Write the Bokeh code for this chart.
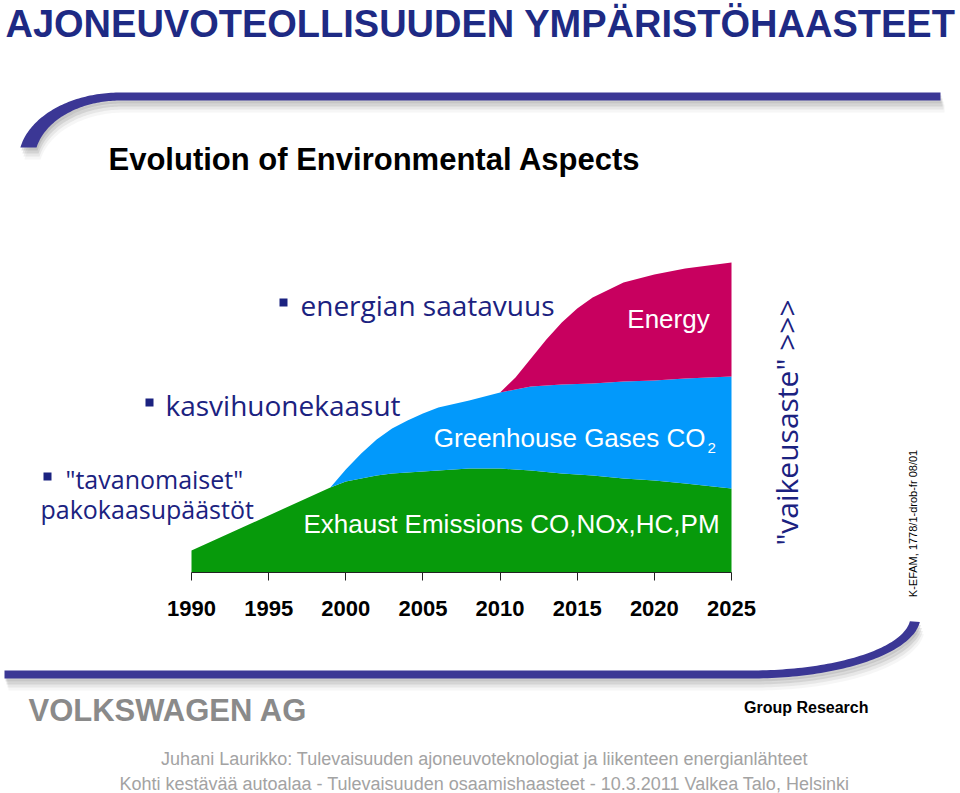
import numpy as np
from bokeh.plotting import figure
from bokeh.models import Range1d, LinearAxis, FixedTicker
from bokeh.core.properties import value
from bokeh.embed import file_html
from bokeh.resources import INLINE

# ---------------- data (arbitrary height units) -------------
years = [1990, 1993, 1996, 1999, 2000, 2001, 2002, 2003, 2004, 2005, 2006, 2008,
         2010, 2011, 2012, 2013, 2014, 2015, 2016, 2018, 2020, 2022, 2025]
exhaust = [22, 43, 64, 85, 91, 94, 97, 99, 100, 101, 102, 104,
           104, 103, 102, 100.5, 99, 98, 97, 94, 92, 89, 84]
greenhouse = [0, 0, 0, 0, 12, 25, 36, 45, 52, 58, 63, 68,
              76, 80, 84, 86.5, 89, 90.5, 92, 97, 100, 105, 112]
energy = [0, 0, 0, 0, 0, 0, 0, 0, 0, 0, 0, 0,
          0, 12, 28, 46, 62, 75.5, 86, 99, 106, 110, 114]

tick_years = [1990, 1995, 2000, 2005, 2010, 2015, 2020, 2025]
tick_labels = ["1990", "1995", "2000", "2005", "2010", "2015", "2020", "2025"]

layer_names = ["Exhaust Emissions CO,NOx,HC,PM", "Greenhouse Gases CO", "Energy"]

# ---------------- colours ----------------
GREEN = "#079a0b"
BLUE = "#0299fb"
MAGENTA = "#c8005f"
NAVY = "#1b2280"
TITLE = "#1e2a84"
SWOOSH = "#3b3795"

# ---------------- page geometry helpers (slide pixel -> data) ----------------
SX = 540.0 / 35.0            # pixels per year
def X(px):
    return 1990 + (np.asarray(px, dtype=float) - 191) / SX
def Y(py):
    return 572 - np.asarray(py, dtype=float)

W, H = 960, 793
p = figure(width=W, height=H, x_range=Range1d(float(X(0)), float(X(W))),
           y_range=Range1d(float(Y(H)), float(Y(0))),
           x_axis_type=None, y_axis_type=None, output_backend="svg",
           toolbar_location=None, min_border=0, outline_line_color=None,
           background_fill_color="white", border_fill_color="white")

# ---------------- stacked areas ----------------
yr = np.array(years, dtype=float)
g = np.array(exhaust, dtype=float)
b = g + np.array(greenhouse, dtype=float)
m = b + np.array(energy, dtype=float)

p.varea(x=yr, y1=np.zeros_like(g), y2=g, fill_color=GREEN)
ib = 3  # greenhouse layer begins
p.varea(x=yr[ib:], y1=g[ib:], y2=b[ib:], fill_color=BLUE)
ie = 12  # energy layer begins
p.varea(x=yr[ie:], y1=b[ie:], y2=m[ie:], fill_color=MAGENTA)

# axis inside the slide
ax = LinearAxis(ticker=FixedTicker(ticks=tick_years), fixed_location=0,
                bounds=(tick_years[0], tick_years[-1]))
ax.major_label_overrides = {t: l for t, l in zip(tick_years, tick_labels)}
ax.axis_line_color = "#222222"
ax.axis_line_width = 1
ax.major_tick_line_color = "#222222"
ax.major_tick_out = 8
ax.major_tick_in = 0
ax.minor_tick_out = 0
ax.minor_tick_in = 0
ax.major_label_text_font = "Liberation Sans"
ax.major_label_text_font_style = "bold"
ax.major_label_text_font_size = "22px"
ax.major_label_text_color = "black"
ax.major_label_standoff = 20
p.add_layout(ax, "below")

# ---------------- swooshes ----------------
def ell(cx, cy, a, bb, t0, t1, n=60):
    th = np.radians(np.linspace(t0, t1, n))
    return cx + a * np.cos(th), cy - bb * np.sin(th)

def swoosh_top():
    ox, oy = ell(120, 160, 102, 68, 90, 169)
    ix, iy = ell(120, 160, 86, 60, 90, 167.5)
    xs = np.concatenate([[940], ox, ix[::-1], [940]])
    ys = np.concatenate([[92], oy, iy[::-1], [100]])
    return xs, ys

def swoosh_bottom():
    ox, oy = ell(750, 616, 170, 62, 270, 355)
    ix, iy = ell(750, 616, 160, 54, 270, 355)
    xs = np.concatenate([[4], ox, ix[::-1], [4]])
    ys = np.concatenate([[678], oy, iy[::-1], [670]])
    return xs, ys

for fn in (swoosh_top, swoosh_bottom):
    xs, ys = fn()
    for dx, dy, al in ((4, 12, 0.07), (3, 9, 0.12), (2, 6, 0.18), (1, 3, 0.2)):
        p.patch(X(xs + dx), Y(ys + dy), fill_color="#7a7a7a", fill_alpha=al, line_color=None)
    p.patch(X(xs), Y(ys), fill_color=SWOOSH, line_color=None)

# ---------------- texts ----------------
def txt(px, py, s, font, size, color, style="normal", align="left", baseline="middle", angle=0.0):
    p.text(x=[float(X(px))], y=[float(Y(py))], text=[s], text_font=value(font),
           text_font_size=size, text_color=color, text_font_style=style,
           text_align=align, text_baseline=baseline, angle=angle)

txt(480, 23, "AJONEUVOTEOLLISUUDEN YMPÄRISTÖHAASTEET", "Liberation Sans", "38px",
    TITLE, "bold", "center")
txt(108, 159, "Evolution of Environmental Aspects", "Liberation Sans", "31px", "black", "bold")

# bullets
p.scatter(x=X([283, 149, 47]), y=Y([302, 402, 476]), marker="square", size=8,
          fill_color=NAVY, line_color=None)
txt(300, 304, "energian saatavuus", "Open Sans", "28px", NAVY)
txt(165, 404, "kasvihuonekaasut", "Open Sans", "28px", NAVY)
txt(65, 478, "\"tavanomaiset\"", "Open Sans", "25px", NAVY)
txt(40, 508, "pakokaasupäästöt", "Open Sans", "25px", NAVY)

# area labels
txt(668, 318, layer_names[2], "Liberation Sans", "26px", "white", align="center")
txt(705, 437, layer_names[1], "Liberation Sans", "26px", "white", align="right")
txt(707, 447, "2", "Liberation Sans", "15px", "white")
txt(511, 523, layer_names[0], "Liberation Sans", "26px", "white", align="center")

# vertical texts
txt(786, 422, "\"vaikeusaste\" >>>", "Open Sans", "30px", NAVY, align="center", angle=np.pi / 2)
txt(912, 523, "K-EFAM, 1778/1-drob-fr 08/01", "Liberation Sans", "11px", "black",
    align="center", angle=np.pi / 2)

# footer
txt(28, 710, "VOLKSWAGEN AG", "Liberation Sans", "31px", "#8a8a8a", "bold")
txt(868, 707, "Group Research", "Liberation Sans", "16px", "black", "bold", align="right")
txt(484, 758, "Juhani Laurikko: Tulevaisuuden ajoneuvoteknologiat ja liikenteen energianlähteet",
    "Liberation Sans", "18px", "#a3a3a3", align="center")
txt(484, 783, "Kohti kestävää autoalaa - Tulevaisuuden osaamishaasteet - 10.3.2011 Valkea Talo, Helsinki",
    "Liberation Sans", "18px", "#a3a3a3", align="center")

open("out.html", "w").write(file_html(p, INLINE))
